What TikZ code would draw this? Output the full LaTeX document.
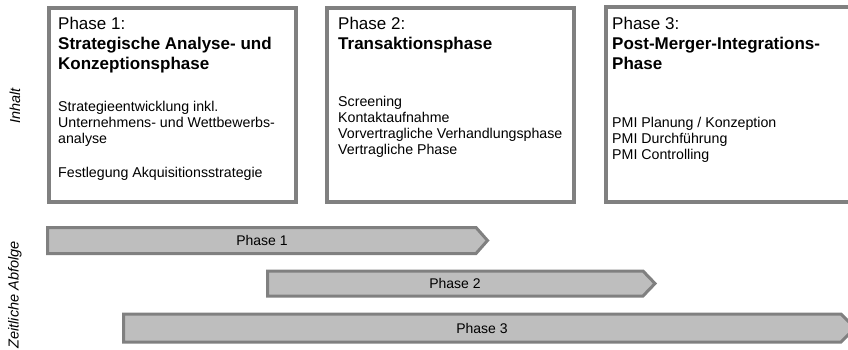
\documentclass[tikz,border=0pt]{standalone}
\usepackage{fontspec}
\setmainfont{Liberation Sans}
\definecolor{rahmengrau}{HTML}{808080}
\definecolor{pfeilgrau}{HTML}{BEBEBE}
\tikzset{
  kasten/.style={draw=rahmengrau, line width=4pt},
  pfeil/.style={draw=rahmengrau, fill=pfeilgrau, line width=3pt, line join=miter},
  titel/.style={anchor=base west, inner sep=0pt, align=left, font=\fontsize{17}{20}\selectfont},
  inhalt/.style={anchor=base west, inner sep=0pt, align=left, font=\fontsize{14.2}{16}\selectfont},
  pfeiltext/.style={inner sep=0pt, font=\fontsize{14}{16}\selectfont},
  achse/.style={rotate=90, inner sep=0pt, font=\fontsize{14.5}{16}\selectfont\itshape}
}
\begin{document}
\begin{tikzpicture}[x=1pt,y=-1pt]
      \clip (0,0) rectangle (848,350);

      % Inhalt der Phasen (Anker = Grundlinie der letzten Zeile)
      \draw[kasten] (48.7,8) rectangle (295.5,202);
      \node[titel] (titel1) at (58,70) {Phase 1:\\\textbf{Strategische Analyse- und}\\\textbf{Konzeptionsphase}};
      \node[inhalt] (text1a) at (58,143.5) {Strategieentwicklung inkl.\\Unternehmens- und Wettbewerbs-\\analyse};
      \node[inhalt] (text1b) at (58,177) {Festlegung Akquisitionsstrategie};

      \draw[kasten] (326.7,8) rectangle (574,202);
      \node[titel] (titel2) at (338,50) {Phase 2:\\\textbf{Transaktionsphase}};
      \node[inhalt] (text2) at (338,154) {Screening\\Kontaktaufnahme\\Vorvertragliche Verhandlungsphase\\Vertragliche Phase};

      \draw[kasten] (605.5,7.5) rectangle (860,202);
      \node[titel] (titel3) at (612,70) {Phase 3:\\\textbf{Post-Merger-Integrations-}\\\textbf{Phase}};
      \node[inhalt] (text3) at (612,159) {PMI Planung / Konzeption\\PMI Durchf\"uhrung\\PMI Controlling};

      % zeitliche Abfolge
      \draw[pfeil] (47.5,227.5) -- (476,227.5) -- (487.5,240.5) -- (476,253.5) -- (47.5,253.5) -- cycle;
      \node[pfeiltext] (pfeil1) at (262,240.5) {Phase 1};
      \draw[pfeil] (267.5,271) -- (643,271) -- (655,283.5) -- (643,296) -- (267.5,296) -- cycle;
      \node[pfeiltext] (pfeil2) at (455,283.5) {Phase 2};
      \draw[pfeil] (123.5,314) -- (841,314) -- (855,328) -- (841,342) -- (123.5,342) -- cycle;
      \node[pfeiltext] (pfeil3) at (482,328) {Phase 3};

      \node[achse] (inhalt) at (15,106) {Inhalt};
      \node[achse] (abfolge) at (15,295) {Zeitliche Abfolge};
   \end{tikzpicture}
\end{document}
